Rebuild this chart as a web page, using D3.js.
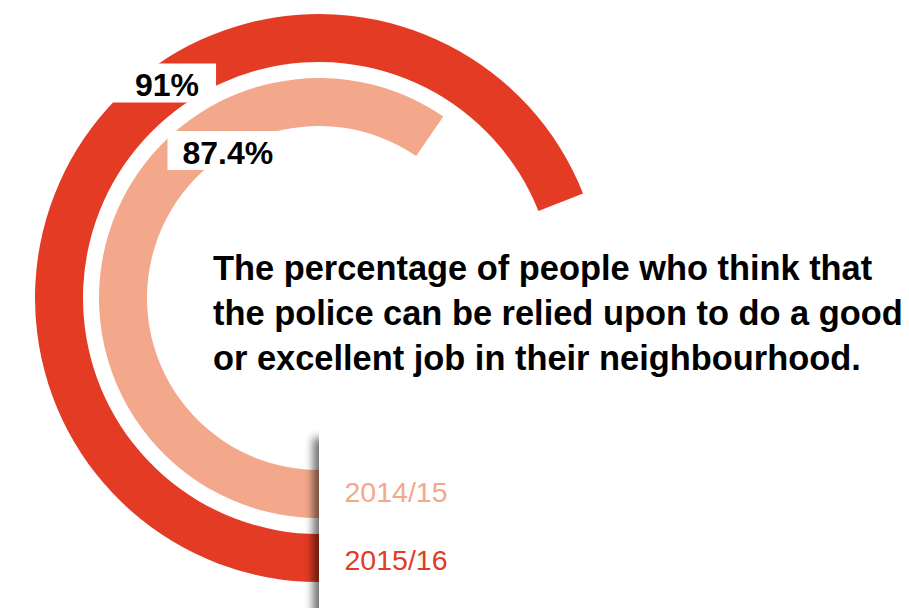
<!DOCTYPE html>
<html>
<head>
<meta charset="utf-8">
<script src="https://cdn.jsdelivr.net/npm/d3@7"></script>
<style>
  html, body { margin: 0; padding: 0; background: #fff; }
  svg { display: block; }
</style>
</head>
<body>
<div id="chart"></div>
<script>
// ---- data ----
const years = ["2014/15", "2015/16"];
const values = [87.4, 91];
const valueLabels = ["87.4%", "91%"];
const colors = ["#F4A88B", "#E33B24"];
const titleLines = [
  "The percentage of people who think that",
  "the police can be relied upon to do a good",
  "or excellent job in their neighbourhood."
];

// ---- layout ----
const W = 909, H = 608;
const cx = 319, cy = 298;
const svg = d3.select("#chart").append("svg").attr("width", W).attr("height", H);

const defs = svg.append("defs");
const f = defs.append("filter").attr("id", "shadow")
  .attr("x", "-50%").attr("y", "-50%").attr("width", "200%").attr("height", "200%");
f.append("feGaussianBlur").attr("stdDeviation", 4.5);

// ring radii per series (inner ring first)
const ring = d3.scaleBand().domain(years).range([172, 284]).paddingInner(0.25).paddingOuter(0);
// angle scale (clockwise from 12 o'clock, starting at 6 o'clock)
const angle = d3.scaleLinear().domain([64.7, 100]).range([Math.PI, Math.PI + 333.4 * Math.PI / 180]);

const g = svg.append("g").attr("transform", `translate(${cx},${cy})`);
const arc = d3.arc();

years.forEach((y, i) => {
  const r0 = ring(y);
  const r1 = r0 + ring.bandwidth();
  g.append("path")
    .attr("d", arc({innerRadius: r0, outerRadius: r1, startAngle: angle.range()[0], endAngle: angle(values[i])}))
    .attr("fill", colors[i]);
});

// value labels (white boxes)
const labelLayout = [
  {bx: 167.5, by: 131, padL: 15, padR: 16},
  {bx: 113, by: 63.5, padL: 22, padR: 17}
];
const lblG = svg.append("g");
years.forEach((y, i) => {
  const L = labelLayout[i];
  const grp = lblG.append("g");
  const rect = grp.append("rect").attr("fill", "#fff");
  const t = grp.append("text")
    .attr("x", L.bx + L.padL).attr("y", L.by + 32.5)
    .attr("font-family", "'Liberation Sans', Arial, Helvetica, sans-serif")
    .attr("font-weight", "bold").attr("font-size", 32).attr("fill", "#000")
    .text(valueLabels[i]);
  const w = t.node().getComputedTextLength();
  rect.attr("x", L.bx).attr("y", L.by).attr("width", w + L.padL + L.padR).attr("height", 39);
});

// title
const title = svg.append("g");
const targetW = 690;
titleLines.forEach((line, i) => {
  title.append("text")
    .attr("x", 213).attr("y", 280 + i * 45)
    .attr("font-family", "'Liberation Sans', Arial, Helvetica, sans-serif")
    .attr("font-weight", "bold").attr("font-size", 32).attr("fill", "#000")
    .text(line);
});
// fit font size so the longest line matches the reference width
{
  const nodes = title.selectAll("text").nodes();
  const w1 = nodes[1].getComputedTextLength();
  const fs = 32 * targetW / w1;
  title.selectAll("text").attr("font-size", fs.toFixed(2));
}

// legend panel with left shadow
svg.append("rect").attr("x", 313).attr("y", 438).attr("width", 40).attr("height", 220)
  .attr("fill", "#000").attr("opacity", 0.55).attr("filter", "url(#shadow)");
svg.append("rect").attr("x", 319).attr("y", 418).attr("width", W - 319).attr("height", H - 418).attr("fill", "#fff");

const legY = d3.scalePoint().domain(years).range([501.5, 570]);
years.forEach((y, i) => {
  svg.append("text")
    .attr("x", 344.5).attr("y", legY(y))
    .attr("font-family", "'Liberation Sans', Arial, Helvetica, sans-serif")
    .attr("font-size", 28.5).attr("fill", colors[i])
    .text(y);
});
</script>
</body>
</html>
